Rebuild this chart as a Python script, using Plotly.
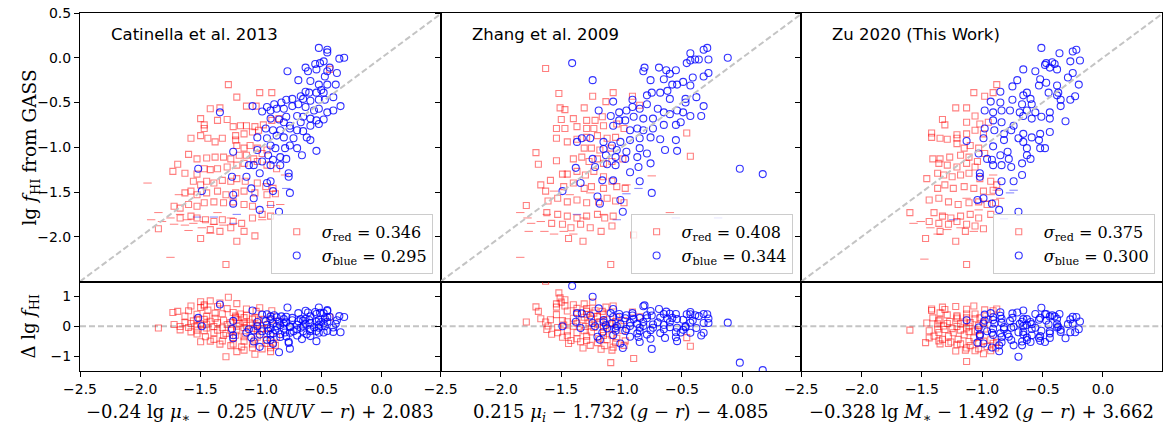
import plotly.graph_objects as go
from plotly.subplots import make_subplots

# ---------------- axes / labels ----------------
XLIM = [-2.5, 0.49]
YLIM_TOP = [-2.5, 0.5]
YLIM_BOT = [-1.5, 1.5]
XTICKS = [-2.5, -2.0, -1.5, -1.0, -0.5, 0.0]
XTICKTEXT = ["−2.5", "−2.0", "−1.5", "−1.0", "−0.5", "0.0"]
YTICKS_TOP = [-2.0, -1.5, -1.0, -0.5, 0.0, 0.5]
YTICKTEXT_TOP = ["−2.0", "−1.5", "−1.0", "−0.5", "0.0", "0.5"]
YTICKS_BOT = [-1, 0, 1]
YTICKTEXT_BOT = ["−1", "0", "1"]

panel_labels = ["Catinella et al. 2013", "Zhang et al. 2009", "Zu 2020 (This Work)"]
x_titles = [
    "−0.24 lg <i>μ</i><sub>∗</sub> − 0.25 (<i>NUV</i> − <i>r</i>) + 2.083",
    "0.215 <i>μ</i><sub><i>i</i></sub> − 1.732 (<i>g</i> − <i>r</i>) − 4.085",
    "−0.328 lg <i>M</i><sub>∗</sub> − 1.492 (<i>g</i> − <i>r</i>) + 3.662",
]
sigma_red = ["0.346", "0.408", "0.375"]
sigma_blue = ["0.295", "0.344", "0.300"]

# ---------------- Panel 1: Catinella et al. 2013 ----------------
c13_blue_x = [-0.52,-0.45,-0.45,-0.31,-0.35,-0.48,-0.51,-0.55,-0.63,-0.61,-0.54,-0.43,-0.45,-0.78,-0.37,-0.47,-0.59,-0.69,-0.52,-0.45,
              -0.38,-0.60,-0.63,-0.54,-0.48,-0.50,-0.67,-0.40,-0.79,-0.74,-0.65,-0.59,-0.52,-0.47,-0.83,-0.89,-1.07,-0.95,-0.87,-0.92,
              -0.99,-0.81,-0.74,-0.69,-0.63,-0.56,-0.52,-0.45,-0.40,-0.34,-1.34,-0.92,-0.85,-0.79,-0.70,-0.65,-0.59,-0.54,-0.48,-0.81,
              -0.76,-0.67,-0.59,-0.52,-0.96,-0.90,-0.84,-0.76,-0.70,-0.65,-1.03,-0.95,-0.87,-0.81,-0.73,-0.62,-0.59,-0.54,-0.92,-0.88,
              -0.80,-0.76,-0.70,-0.66,-1.23,-1.03,-0.94,-0.90,-0.84,-0.79,-0.99,-0.92,-0.84,-1.10,-1.06,-1.52,-1.24,-1.12,-1.01,-0.77,
              -0.77,-0.92,-0.95,-1.08,-1.23,-1.06,-1.49,-0.85,-1.01,-0.76,-0.90,-1.23]
c13_blue_y = [0.11,0.09,0.06,0.00,-0.01,-0.04,-0.06,-0.07,-0.11,-0.15,-0.13,-0.11,-0.15,-0.15,-0.17,-0.21,-0.26,-0.25,-0.30,-0.30,
              -0.30,-0.39,-0.38,-0.39,-0.39,-0.36,-0.43,-0.44,-0.47,-0.46,-0.46,-0.48,-0.47,-0.47,-0.50,-0.52,-0.54,-0.55,-0.57,-0.59,
              -0.60,-0.57,-0.54,-0.52,-0.55,-0.59,-0.57,-0.61,-0.59,-0.54,-0.61,-0.68,-0.69,-0.66,-0.65,-0.66,-0.68,-0.70,-0.69,-0.72,
              -0.76,-0.72,-0.76,-0.74,-0.79,-0.81,-0.81,-0.79,-0.81,-0.82,-0.89,-0.90,-0.87,-0.89,-0.90,-0.89,-0.92,-1.04,-0.98,-1.01,
              -1.01,-0.98,-1.01,-1.09,-1.05,-1.03,-1.09,-1.14,-1.11,-1.13,-1.16,-1.20,-1.20,-1.20,-1.20,-1.24,-1.33,-1.33,-1.29,-1.29,
              -1.33,-1.38,-1.40,-1.46,-1.53,-1.57,-1.49,-1.72,-1.70,-1.51,-1.49,-1.63]
c13_red_x = [-1.27,-1.20,-1.01,-0.91,-1.42,-1.34,-1.12,-1.04,-1.50,-1.36,-1.28,-1.47,-1.47,-1.23,-1.17,-1.12,-1.05,-0.98,-0.91,-0.85,
             -1.58,-1.50,-1.44,-1.38,-1.32,-1.21,-1.14,-1.07,-1.02,-1.21,-1.20,-1.14,-1.09,-1.03,
             -1.60,-1.53,-1.45,-1.38,-1.31,-1.25,-1.18,-1.12,-1.06,-0.99,-0.95,
             -1.69,-1.73,-1.63,-1.53,-1.47,-1.42,-1.36,-1.28,-1.20,-1.14,-1.03,-0.95,-0.87,
             -1.56,-1.50,-1.45,-1.39,-1.32,-1.25,-1.20,-1.13,-1.03,-0.96,-0.90,
             -1.63,-1.58,-1.53,-1.45,-1.36,-1.29,-1.21,-1.14,-1.05,-0.95,-0.88,
             -1.72,-1.67,-1.60,-1.53,-1.47,-1.39,-1.31,-1.23,-1.14,-1.07,-0.92,
             -1.67,-1.58,-1.53,-1.46,-1.39,-1.32,-1.23,-1.16,-1.07,-0.99,-0.92,
             -1.85,-1.50,-1.42,-1.34,-1.25,-1.14,-1.05,-1.20,-1.29,-0.43]
c13_red_y = [-0.30,-0.44,-0.39,-0.39,-0.57,-0.56,-0.54,-0.54,-0.68,-0.70,-0.69,-0.75,-0.79,-0.77,-0.76,-0.76,-0.77,-0.75,-0.70,-0.68,
             -0.90,-0.87,-0.90,-0.94,-0.90,-0.87,-0.85,-0.83,-0.81,-0.92,-0.98,-1.01,-0.98,-1.01,
             -1.08,-1.13,-1.12,-1.11,-1.11,-1.13,-1.09,-1.09,-1.13,-1.07,-1.03,
             -1.19,-1.27,-1.29,-1.30,-1.24,-1.25,-1.24,-1.22,-1.20,-1.18,-1.16,-1.20,-1.24,
             -1.38,-1.42,-1.38,-1.40,-1.37,-1.38,-1.35,-1.38,-1.40,-1.44,-1.46,
             -1.51,-1.49,-1.53,-1.51,-1.49,-1.53,-1.51,-1.49,-1.51,-1.53,-1.52,
             -1.66,-1.68,-1.64,-1.66,-1.62,-1.61,-1.62,-1.61,-1.64,-1.66,-1.64,
             -1.79,-1.77,-1.79,-1.81,-1.83,-1.81,-1.83,-1.85,-1.79,-1.75,-1.77,
             -1.91,-2.02,-1.92,-1.94,-1.90,-1.94,-1.99,-2.05,-2.31,-0.13]
c13_red_lim_x = [-1.94,-1.85,-1.91,-1.75,-1.82,-1.67,-1.61,-1.72,-1.63,-1.56,-1.47,-1.49,-1.39,-1.25,-1.31,-1.60,-1.42,-1.75,-0.99,-0.80,-0.84,-1.68,-1.36]
c13_red_lim_y = [-1.40,-1.73,-1.81,-1.79,-1.83,-1.75,-1.81,-1.86,-1.87,-1.85,-1.83,-1.90,-1.86,-1.79,-1.87,-1.93,-1.96,-2.23,-1.81,-1.31,-1.64,-1.53,-1.73]
c13_blue_lim_x = [-1.53,-1.39,-1.20,-0.79,-1.23,-0.92]
c13_blue_lim_y = [-1.78,-1.78,-1.75,-1.46,-1.85,-1.65]

# ---------------- Panel 2: Zhang et al. 2009 ----------------
z09_blue_x = [-1.41,-1.24,-0.12,-0.32,-0.29,-0.43,-0.46,-0.43,-0.39,-0.36,-0.28,-0.28,-0.32,-0.81,-0.82,-0.69,-0.63,-0.60,-0.55,-0.76,
              -0.65,-0.58,-0.54,-0.49,-0.41,-0.43,-0.75,-0.68,-0.62,-0.60,-0.79,-0.38,-0.47,-0.47,-1.07,-0.91,-0.79,-0.85,-0.91,-0.96,
              -0.70,-0.65,-0.60,-0.54,-0.49,-0.43,-0.32,-0.34,-1.19,-1.09,-1.02,-1.02,-0.97,-0.90,-0.82,-0.74,-0.65,-0.55,-0.51,-1.07,
              -0.93,-0.87,-0.82,-0.74,-0.68,-0.55,-1.33,-1.26,-1.15,-1.08,-1.01,-0.93,-0.85,-0.76,-1.37,-1.15,-1.04,-0.96,-0.85,-0.79,
              -0.64,-0.54,-1.24,-1.13,-1.05,-0.97,-0.87,-0.76,-1.38,-1.22,-1.12,-1.05,-0.93,-0.86,-0.02,0.17,-1.34,-1.16,-1.07,-1.49,
              -1.20,-1.18,-1.01,-0.99,-0.85,-0.75]
z09_blue_y = [-0.06,-0.25,0.00,0.09,0.11,0.05,-0.06,-0.03,-0.02,-0.02,-0.02,-0.17,-0.21,-0.11,-0.15,-0.11,-0.14,-0.18,-0.14,-0.25,
              -0.24,-0.30,-0.30,-0.27,-0.22,-0.31,-0.39,-0.39,-0.37,-0.46,-0.42,-0.44,-0.46,-0.50,-0.49,-0.47,-0.52,-0.57,-0.55,-0.59,
              -0.57,-0.61,-0.63,-0.59,-0.61,-0.65,-0.54,-0.65,-0.59,-0.65,-0.61,-0.70,-0.70,-0.66,-0.68,-0.68,-0.75,-0.75,-0.72,-0.76,
              -0.81,-0.79,-0.81,-0.79,-0.91,-0.92,-0.90,-0.90,-0.94,-0.98,-0.94,-0.92,-0.90,-0.89,-0.94,-1.02,-1.03,-1.05,-1.01,-1.07,
              -1.03,-1.04,-1.13,-1.09,-1.11,-1.13,-1.11,-1.18,-1.23,-1.22,-1.19,-1.20,-1.28,-1.22,-1.24,-1.30,-1.40,-1.37,-1.37,-1.49,
              -1.55,-1.63,-1.59,-1.72,-1.38,-1.51]
z09_red_x = [-1.63,-1.52,-1.24,-1.07,-0.91,-1.51,-1.47,-1.31,-1.13,-0.85,
             -1.50,-1.40,-1.29,-1.22,-1.16,-1.54,-1.47,-1.37,-1.29,-1.23,
             -1.15,-1.04,-0.98,-1.54,-1.45,-1.37,-1.29,-1.20,-1.12,-1.05,
             -1.25,-1.31,-1.18,-1.09,-1.71,-1.69,-1.54,-1.40,-1.33,-1.27,
             -1.20,-1.15,-1.08,-0.99,-0.43,-0.46,-1.49,-1.45,-1.37,-1.30,
             -1.23,-1.15,-1.08,-1.67,-1.63,-1.59,-1.48,-1.40,-1.31,-1.25,
             -1.15,-1.04,-0.97,-1.61,-1.53,-1.45,-1.37,-1.29,-1.19,-1.12,
             -1.05,-0.98,-1.79,-1.62,-1.53,-1.45,-1.37,-1.29,-1.20,-1.14,
             -1.07,-1.58,-1.49,-1.42,-1.34,-1.26,-1.17,-1.08,-1.44,-1.32,
             -0.90,-1.09]
z09_red_y = [-0.12,-0.40,-0.43,-0.39,-0.43,-0.56,-0.58,-0.56,-0.49,-0.53,
             -0.69,-0.68,-0.70,-0.70,-0.66,-0.79,-0.79,-0.77,-0.79,-0.79,
             -0.76,-0.74,-0.79,-0.90,-0.94,-0.91,-0.89,-0.87,-0.90,-0.89,
             -1.01,-1.01,-1.03,-1.01,-1.06,-1.19,-1.15,-1.13,-1.11,-1.16,
             -1.13,-1.18,-1.16,-1.13,-1.10,-0.84,-1.30,-1.30,-1.27,-1.31,
             -1.27,-1.33,-1.38,-1.42,-1.49,-1.37,-1.44,-1.40,-1.46,-1.44,
             -1.46,-1.44,-1.46,-1.60,-1.57,-1.61,-1.59,-1.62,-1.61,-1.57,
             -1.60,-1.62,-1.65,-1.73,-1.75,-1.77,-1.79,-1.77,-1.75,-1.79,
             -1.77,-1.85,-1.86,-1.90,-1.86,-1.90,-1.94,-1.88,-2.02,-2.05,
             -1.98,-2.31]
z09_red_lim_x = [-1.84,-1.78,-1.75,-1.67,-1.77,-1.64,-1.56,-1.48,-1.40,-1.56,-1.43,-1.26,-1.84,-0.75,-0.96,-1.62,-1.31,-1.15,-0.60]
z09_red_lim_y = [-1.73,-1.79,-1.85,-1.83,-1.94,-1.94,-1.97,-1.94,-1.97,-1.49,-1.53,-1.51,-2.23,-1.32,-1.42,-1.75,-1.79,-1.75,-1.73]
z09_blue_lim_x = [-0.96,-0.86,-0.55,-0.20,-1.04,-1.37]
z09_blue_lim_y = [-1.52,-1.46,-1.79,-1.79,-1.81,-1.75]

# ---------------- Panel 3: Zu 2020 (This Work) ----------------
zu20_blue_x = [-0.51,-0.36,-0.25,-0.22,-0.19,-0.27,-0.47,-0.42,-0.40,-0.38,-0.44,-0.48,-0.66,-0.56,-0.25,-0.29,-0.20,-0.71,-0.52,-0.47,
               -0.38,-0.75,-0.53,-0.45,-0.37,-0.85,-0.63,-0.23,-0.27,-0.35,-0.38,-0.66,-0.60,-0.75,-0.93,-0.85,-0.67,-0.59,-0.35,-0.98,
               -0.91,-0.84,-0.77,-0.69,-0.63,-0.56,-0.51,-0.44,-0.66,-0.59,-0.44,-0.31,-0.91,-0.84,-0.74,-0.98,-0.90,-0.82,-0.76,-0.66,
               -0.59,-0.52,-0.44,-1.13,-0.99,-0.91,-0.82,-0.70,-0.66,-0.53,-0.48,-0.63,-0.52,-0.79,-1.03,-0.96,-0.92,-0.85,-0.78,-0.63,
               -0.67,-0.60,-0.91,-0.84,-0.76,-1.02,-1.02,-0.84,-0.74,-0.67,-1.04,-0.99,-0.92,-0.86,-0.86,-0.70]
zu20_blue_y = [0.11,0.05,0.07,0.09,-0.03,-0.04,-0.06,-0.05,-0.07,-0.13,-0.11,-0.08,-0.13,-0.15,-0.17,-0.22,-0.30,-0.25,-0.24,-0.28,
               -0.31,-0.32,-0.31,-0.39,-0.39,-0.38,-0.39,-0.43,-0.47,-0.47,-0.42,-0.42,-0.46,-0.47,-0.49,-0.50,-0.52,-0.52,-0.54,-0.59,
               -0.61,-0.59,-0.59,-0.61,-0.59,-0.61,-0.66,-0.61,-0.65,-0.68,-0.68,-0.71,-0.70,-0.72,-0.76,-0.79,-0.81,-0.85,-0.81,-0.85,
               -0.89,-0.85,-0.83,-0.93,-0.90,-0.99,-0.92,-0.90,-0.94,-0.92,-1.01,-1.01,-1.01,-1.05,-1.07,-1.13,-1.14,-1.09,-1.13,-1.09,
               -1.18,-1.13,-1.20,-1.20,-1.22,-1.29,-1.33,-1.38,-1.38,-1.31,-1.59,-1.57,-1.63,-1.50,-1.70,-1.72]
zu20_red_x = [-0.88,-1.07,-0.98,-0.91,-1.22,-1.13,-1.06,-1.33,-1.31,-1.13,
              -1.02,-0.95,-1.42,-1.42,-1.35,-1.29,-1.21,-1.21,-1.13,-1.06,
              -0.99,-1.21,-1.15,-1.10,-1.03,-0.98,-1.41,-1.35,-1.27,-1.18,
              -1.11,-1.04,-1.36,-1.29,-1.21,-1.13,-1.06,-1.46,-1.37,-1.32,
              -1.25,-1.18,-1.11,-1.02,-0.93,-0.88,-1.37,-1.31,-1.24,-1.15,
              -1.07,-0.99,-0.91,-1.44,-1.36,-1.28,-1.20,-1.11,-1.03,-0.96,
              -0.89,-1.60,-1.40,-1.33,-1.26,-1.18,-1.10,-1.03,-0.93,-1.44,
              -1.36,-1.28,-1.21,-1.13,-1.06,-0.99,-1.47,-1.22,-1.13,-1.35,
              -1.14]
zu20_red_y = [-0.30,-0.39,-0.43,-0.39,-0.56,-0.56,-0.65,-0.69,-0.75,-0.72,
              -0.74,-0.72,-0.84,-0.89,-0.90,-0.91,-0.86,-0.90,-0.85,-0.81,
              -0.85,-0.96,-1.01,-0.98,-1.01,-1.07,-1.13,-1.13,-1.11,-1.09,
              -1.11,-1.16,-1.18,-1.20,-1.22,-1.18,-1.22,-1.35,-1.29,-1.31,
              -1.33,-1.31,-1.29,-1.35,-1.38,-1.42,-1.46,-1.42,-1.46,-1.44,
              -1.46,-1.49,-1.48,-1.59,-1.57,-1.61,-1.64,-1.62,-1.61,-1.64,
              -1.62,-1.73,-1.73,-1.77,-1.79,-1.77,-1.75,-1.79,-1.75,-1.83,
              -1.85,-1.86,-1.83,-1.86,-1.88,-1.91,-2.02,-2.05,-2.31,-1.94,
              -1.94]
zu20_red_lim_x = [-1.48,-1.57,-1.51,-1.43,-1.37,-1.29,-1.18,-1.07,-0.97,-0.93,-0.88,-0.85,-1.32,-1.03,-0.91,-1.13]
zu20_red_lim_y = [-2.25,-1.85,-1.83,-1.90,-1.97,-1.92,-1.90,-1.94,-1.60,-1.53,-1.48,-1.57,-1.75,-1.70,-1.31,-1.57]
zu20_blue_lim_x = [-0.77,-0.74,-0.82,-1.02,-1.24]
zu20_blue_lim_y = [-1.51,-1.48,-1.80,-1.62,-1.81]

panels = [
    (c13_red_x, c13_red_y, c13_blue_x, c13_blue_y, c13_red_lim_x, c13_red_lim_y, c13_blue_lim_x, c13_blue_lim_y),
    (z09_red_x, z09_red_y, z09_blue_x, z09_blue_y, z09_red_lim_x, z09_red_lim_y, z09_blue_lim_x, z09_blue_lim_y),
    (zu20_red_x, zu20_red_y, zu20_blue_x, zu20_blue_y, zu20_red_lim_x, zu20_red_lim_y, zu20_blue_lim_x, zu20_blue_lim_y),
]

# ---------------- styles ----------------
RED = "rgba(255,0,0,0.5)"
BLUE = "rgba(0,0,255,0.8)"
REF = "#c4c4c4"
SERIF = "DejaVu Serif"
SANS = "DejaVu Sans"

fig = make_subplots(rows=2, cols=3, row_heights=[0.75, 0.25],
                    horizontal_spacing=0, vertical_spacing=0)

legend_names = ["legend", "legend2", "legend3"]
legend_x = [0.326, 0.6586, 0.9933]

for i, (rx, ry, bx, by, rlx, rly, blx, bly) in enumerate(panels):
    c = i + 1
    lg = legend_names[i]
    # upper limits (small horizontal dashes)
    fig.add_trace(go.Scatter(x=rlx, y=rly, mode="markers", showlegend=False, hoverinfo="skip",
                             marker=dict(symbol="line-ew", size=6, line=dict(color=RED, width=1))),
                  row=1, col=c)
    fig.add_trace(go.Scatter(x=blx, y=bly, mode="markers", showlegend=False, hoverinfo="skip",
                             marker=dict(symbol="line-ew", size=6, line=dict(color="rgba(0,0,255,0.5)", width=1))),
                  row=1, col=c)
    # detections
    fig.add_trace(go.Scatter(x=rx, y=ry, mode="markers", legend=lg,
                             name="<i>σ</i><sub>red</sub> = " + sigma_red[i],
                             marker=dict(symbol="square-open", size=6, color=RED, line=dict(width=1.1))),
                  row=1, col=c)
    fig.add_trace(go.Scatter(x=bx, y=by, mode="markers", legend=lg,
                             name="<i>σ</i><sub>blue</sub> = " + sigma_blue[i],
                             marker=dict(symbol="circle-open", size=7, color=BLUE, line=dict(width=1.1))),
                  row=1, col=c)
    # one-to-one line
    fig.add_trace(go.Scatter(x=YLIM_TOP, y=YLIM_TOP, mode="lines", showlegend=False, hoverinfo="skip",
                             line=dict(color=REF, width=2, dash="6px,3px")),
                  row=1, col=c)
    # residual panel
    fig.add_trace(go.Scatter(x=XLIM, y=[0, 0], mode="lines", showlegend=False, hoverinfo="skip",
                             line=dict(color=REF, width=2, dash="6px,3px")),
                  row=2, col=c)
    fig.add_trace(go.Scatter(x=rx, y=[yy - xx for xx, yy in zip(rx, ry)], mode="markers", showlegend=False,
                             marker=dict(symbol="square-open", size=6, color=RED, line=dict(width=1.1))),
                  row=2, col=c)
    fig.add_trace(go.Scatter(x=bx, y=[yy - xx for xx, yy in zip(bx, by)], mode="markers", showlegend=False,
                             marker=dict(symbol="circle-open", size=7, color=BLUE, line=dict(width=1.1))),
                  row=2, col=c)

    # axes
    fig.update_xaxes(range=XLIM, showline=True, mirror=True, linecolor="black", linewidth=1,
                     showgrid=False, zeroline=False, ticks="", showticklabels=False, row=1, col=c)
    fig.update_xaxes(range=XLIM, showline=True, mirror=True, linecolor="black", linewidth=1,
                     showgrid=False, zeroline=False, ticks="outside", ticklen=5, tickcolor="black",
                     tickvals=XTICKS, ticktext=XTICKTEXT, tickfont=dict(family=SANS, size=14, color="black"),
                     row=2, col=c)
    fig.update_yaxes(range=YLIM_TOP, showline=True, mirror=True, linecolor="black", linewidth=1,
                     showgrid=False, zeroline=False, ticks="outside", ticklen=5, tickcolor="black",
                     tickvals=YTICKS_TOP, ticktext=YTICKTEXT_TOP, showticklabels=(c == 1),
                     tickfont=dict(family=SANS, size=14, color="black"), row=1, col=c)
    fig.update_yaxes(range=YLIM_BOT, showline=True, mirror=True, linecolor="black", linewidth=1,
                     showgrid=False, zeroline=False, ticks="outside", ticklen=5, tickcolor="black",
                     tickvals=YTICKS_BOT, ticktext=YTICKTEXT_BOT, showticklabels=(c == 1),
                     tickfont=dict(family=SANS, size=14, color="black"), row=2, col=c)

    xs = "" if c == 1 else str(c)
    fig.add_annotation(text=panel_labels[i], xref=f"x{xs} domain", yref=f"y{xs} domain",
                       x=0.08, y=0.92, xanchor="left", yanchor="middle", showarrow=False,
                       font=dict(family=SANS, size=16.5, color="black"))
    fig.add_annotation(text=x_titles[i], xref=f"x{c + 3} domain", yref="paper",
                       x=0.5, y=-0.116, xanchor="center", yanchor="middle", showarrow=False,
                       font=dict(family=SERIF, size=18, color="black"))

    fig.layout[lg] = dict(x=legend_x[i], y=0.2715, xanchor="right", yanchor="bottom",
                          bgcolor="rgba(255,255,255,0.8)", bordercolor="#cccccc", borderwidth=1,
                          font=dict(family=SERIF, size=16, color="black"), itemwidth=40,
                          tracegroupgap=0)

fig.add_annotation(text="lg <i>f</i><sub>HI</sub> from GASS", xref="paper", yref="y domain",
                   x=-0.045, y=0.5, textangle=-90, xanchor="center", yanchor="middle", showarrow=False,
                   font=dict(family=SERIF, size=18.5, color="black"))
fig.add_annotation(text="Δ lg <i>f</i><sub>HI</sub>", xref="paper", yref="y4 domain",
                   x=-0.046, y=0.5, textangle=-90, xanchor="center", yanchor="middle", showarrow=False,
                   font=dict(family=SERIF, size=18, color="black"))

fig.update_layout(width=1168, height=430, margin=dict(l=80, r=5, t=10, b=59),
                  plot_bgcolor="white", paper_bgcolor="white")

fig.write_html("out.html")
